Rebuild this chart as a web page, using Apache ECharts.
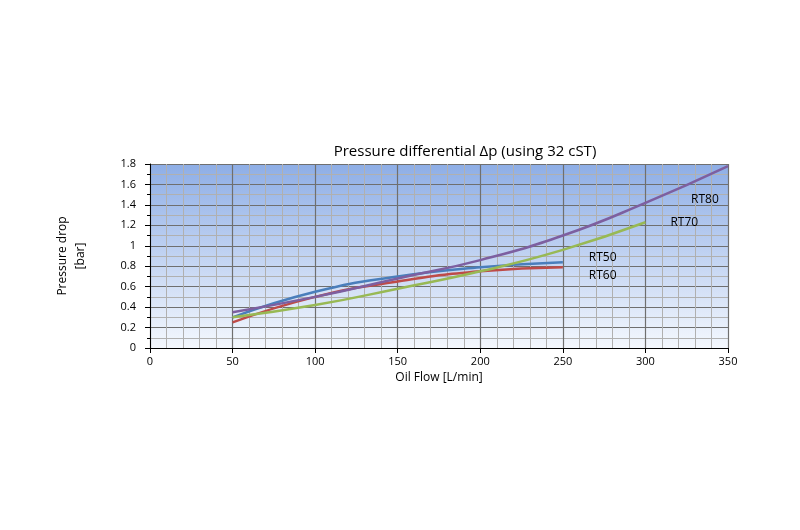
<!DOCTYPE html><html><head><meta charset="utf-8"><script src="https://cdn.jsdelivr.net/npm/echarts@6/dist/echarts.min.js"></script></head><body style="margin:0;background:#fff"><div id="c" style="width:800px;height:530px"></div><script>
const flow50=[50,100,150,200,250];
const flow60=[50,100,150,200,250];
const flow70=[50,100,150,200,250,300];
const flow80=[50,100,150,200,250,300,350];
const rt50=[0.30,0.55,0.70,0.79,0.84];
const rt60=[0.25,0.50,0.65,0.75,0.79];
const rt70=[0.30,0.42,0.58,0.75,0.96,1.23];
const rt80=[0.35,0.50,0.68,0.86,1.10,1.42,1.78];
const z=(xs,ys)=>xs.map((x,i)=>[x,ys[i]]);
const lab=(t,off)=>({show:true,formatter:t,color:'#000',fontSize:12,fontFamily:'Open Sans',offset:off});
const s=(name,xs,ys,color,off)=>({name,type:'line',smooth:true,symbol:'none',data:z(xs,ys),lineStyle:{color,width:2.5},endLabel:lab(name,off)});
const c=echarts.init(document.getElementById('c'));
c.setOption({animation:false,
title:{text:'Pressure differential Δp (using 32 cST)',left:460,top:139,textAlign:'center',textStyle:{fontFamily:'Open Sans',fontWeight:'normal',fontSize:15,color:'#000'}},
grid:{left:150,right:72,top:164,bottom:182,show:true,borderWidth:0,backgroundColor:{type:'linear',x:0,y:0,x2:0,y2:1,colorStops:[{offset:0,color:'#8eaee6'},{offset:1,color:'#f4f8fe'}]}},
xAxis:{type:'value',min:0,max:350,interval:50,name:'Oil Flow [L/min]',nameLocation:'middle',nameGap:24,nameTextStyle:{fontFamily:'Open Sans',fontSize:12,color:'#000'},
axisLine:{lineStyle:{color:'#000'}},axisTick:{lineStyle:{color:'#000'}},axisLabel:{color:'#000',fontFamily:'Open Sans',fontSize:11},
splitLine:{lineStyle:{color:'#6f6f6f',width:1.2}},minorTick:{show:false,splitNumber:5},minorSplitLine:{show:true,lineStyle:{color:'#b0b0b0'}}},
yAxis:{type:'value',min:0,max:1.8,interval:0.2,name:'Pressure drop\n[bar]',nameLocation:'middle',nameGap:60,nameRotate:90,nameTextStyle:{fontFamily:'Open Sans',fontSize:12,color:'#000',lineHeight:18},
axisLine:{show:true,lineStyle:{color:'#000'}},axisTick:{show:true,lineStyle:{color:'#000'}},axisLabel:{color:'#000',fontFamily:'Open Sans',fontSize:11,margin:14},
splitLine:{lineStyle:{color:'#6f6f6f',width:1.2}},minorTick:{show:true,splitNumber:2,length:3,lineStyle:{color:'#000'}},minorSplitLine:{show:true,lineStyle:{color:'#b0b0b0'}}},
series:[s('RT50',flow50,rt50,'#4a7ebb',[18,-5]),s('RT60',flow60,rt60,'#be4b48',[18,8]),s('RT70',flow70,rt70,'#98b954',[17,0]),s('RT80',flow80,rt80,'#7d5fa0',[-45,34])]});
</script></body></html>
